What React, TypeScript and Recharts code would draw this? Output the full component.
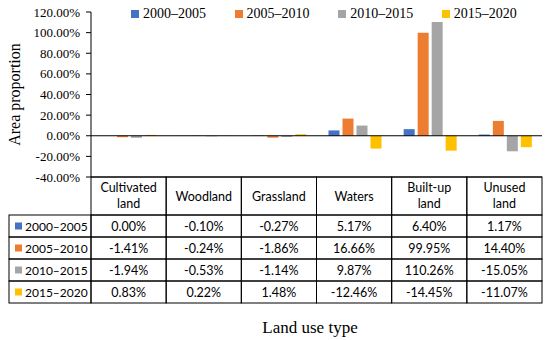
import React from 'react';
import { BarChart, Bar, XAxis, YAxis, ReferenceLine } from 'recharts';

const categories = ['Cultivated land', 'Woodland', 'Grassland', 'Waters', 'Built-up land', 'Unused land'];
const headerLines = [['Cultivated', 'land'], ['Woodland'], ['Grassland'], ['Waters'], ['Built-up', 'land'], ['Unused', 'land']];
const seriesNames = ['2000–2005', '2005–2010', '2010–2015', '2015–2020'];
const seriesColors = ['#4472C4', '#ED7D31', '#A5A5A5', '#FFC000'];
const s2000_2005 = [0.0, -0.1, -0.27, 5.17, 6.4, 1.17];
const s2005_2010 = [-1.41, -0.24, -1.86, 16.66, 99.95, 14.4];
const s2010_2015 = [-1.94, -0.53, -1.14, 9.87, 110.26, -15.05];
const s2015_2020 = [0.83, 0.22, 1.48, -12.46, -14.45, -11.07];
const yTicks = [-40, -20, 0, 20, 40, 60, 80, 100, 120];

const seriesValues = [s2000_2005, s2005_2010, s2010_2015, s2015_2020];
const seriesKeys = ['a', 'b', 'c', 'd'];

const data = categories.map((c, i) => ({
  cat: c,
  a: s2000_2005[i],
  b: s2005_2010[i],
  c: s2010_2015[i],
  d: s2015_2020[i],
}));

const W = 550;
const H = 340;
const MARGIN = { top: 12, right: 8, left: 0, bottom: 0 };
const YW = 91;
const XH = 163;
const PLOT_W = W - MARGIN.right - YW;
const BAND = PLOT_W / categories.length;
const TABLE_TOP = H - XH;
const HEADER_H = 38;
const ROW_H = 22;
const ROW_HEAD_W = 82;
const TABLE_FONT = 'Lato, "Open Sans", sans-serif';
const SERIF = '"Liberation Serif", "Times New Roman", serif';

const fmt = (v: number) => v.toFixed(2) + '%';

const TableTick = (props: any) => {
  const { x, payload, index } = props;
  const i = payload?.index ?? index;
  const left = x - BAND / 2;
  const lines = headerLines[i];
  const els: any[] = [];
  els.push(<rect key="h" x={left} y={TABLE_TOP} width={BAND} height={HEADER_H} fill="none" stroke="#000" strokeWidth={1} />);
  lines.forEach((ln, k) => {
    const cy = lines.length === 1 ? TABLE_TOP + HEADER_H / 2 : TABLE_TOP + 10 + k * 16.5;
    els.push(
      <text key={'hl' + k} x={x} y={cy} textAnchor="middle" dominantBaseline="central" fontFamily={TABLE_FONT} fontSize={12.5} fill="#000">
        {ln}
      </text>
    );
  });
  seriesValues.forEach((vals, r) => {
    const top = TABLE_TOP + HEADER_H + r * ROW_H;
    els.push(<rect key={'c' + r} x={left} y={top} width={BAND} height={ROW_H} fill="none" stroke="#000" strokeWidth={1} />);
    els.push(
      <text key={'t' + r} x={x} y={top + ROW_H / 2} textAnchor="middle" dominantBaseline="central" fontFamily={TABLE_FONT} fontSize={12.5} fill="#000">
        {fmt(vals[i])}
      </text>
    );
    if (i === 0) {
      const rl = left - ROW_HEAD_W;
      els.push(<rect key={'rh' + r} x={rl} y={top} width={ROW_HEAD_W} height={ROW_H} fill="none" stroke="#000" strokeWidth={1} />);
      els.push(<rect key={'sq' + r} x={rl + 6} y={top + ROW_H / 2 - 3.5} width={7} height={7} fill={seriesColors[r]} />);
      els.push(
        <text key={'rt' + r} x={rl + 16} y={top + ROW_H / 2} dominantBaseline="central" fontFamily={TABLE_FONT} fontSize={12} fill="#000">
          {seriesNames[r]}
        </text>
      );
    }
  });
  return <g>{els}</g>;
};

export default function App() {
  return (
    <div style={{ position: 'absolute', left: 0, top: 0, width: W, height: H, background: '#fff' }}>
      <BarChart width={W} height={H} data={data} margin={MARGIN} barCategoryGap={12} barGap={3}>
        <XAxis
          dataKey="cat"
          height={XH}
          interval={0}
          tickLine={false}
          axisLine={{ stroke: '#000' }}
          tick={<TableTick />}
          label={{
            content: () => (
              <text x={310} y={327} textAnchor="middle" dominantBaseline="central" fontFamily={SERIF} fontSize={17} fill="#000">
                Land use type
              </text>
            ),
          }}
        />
        <YAxis
          width={YW}
          domain={[-40, 120]}
          ticks={yTicks}
          interval={0}
          tickFormatter={fmt}
          tickSize={5}
          tickMargin={6}
          tick={{ fontFamily: SERIF, fontSize: 13, fill: '#000' }}
          tickLine={{ stroke: '#000' }}
          axisLine={{ stroke: '#000' }}
          label={{
            content: () => (
              <text x={14} y={94.5} textAnchor="middle" dominantBaseline="central" transform="rotate(-90 14 94.5)" fontFamily={SERIF} fontSize={16} fill="#000">
                Area proportion
              </text>
            ),
          }}
        />
        {seriesKeys.map((k, idx) => (
          <Bar key={k} dataKey={k} name={seriesNames[idx]} fill={seriesColors[idx]} isAnimationActive={false} />
        ))}
        <ReferenceLine y={0} stroke="#000" strokeWidth={1} />
      </BarChart>
      <div style={{ position: 'absolute', left: 0, top: 6, width: W, height: 16, pointerEvents: 'none' }}>
        {seriesNames.map((n, idx) => (
          <div
            key={n}
            style={{
              position: 'absolute',
              left: 131 + idx * 103.6,
              top: 0,
              display: 'flex',
              alignItems: 'center',
              fontFamily: SERIF,
              fontSize: 14,
              color: '#000',
              whiteSpace: 'nowrap',
              lineHeight: '16px',
            }}
          >
            <span style={{ display: 'inline-block', width: 8, height: 8, background: seriesColors[idx], marginRight: 4 }} />
            {n}
          </div>
        ))}
      </div>
    </div>
  );
}
